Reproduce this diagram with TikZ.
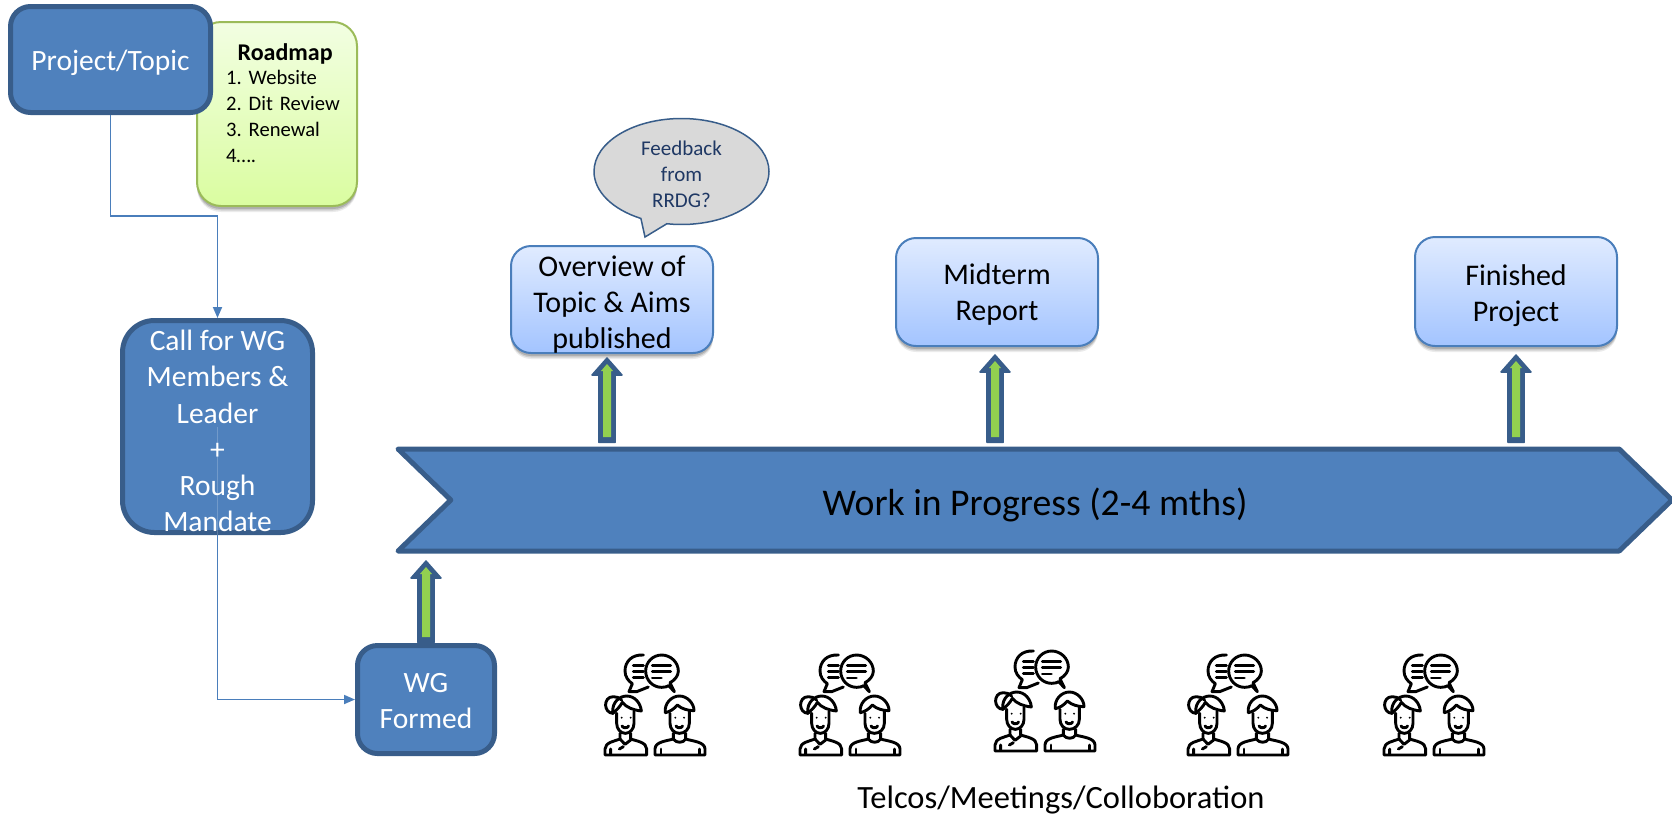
\documentclass[tikz,border=0pt]{standalone}
\usepackage{fontspec}
\setmainfont{Carlito}
\usetikzlibrary{arrows.meta,shadows,shapes.callouts,shapes.symbols,calc}
\definecolor{bluefill}{HTML}{4F81BD}
\definecolor{bluedark}{HTML}{385D8A}
\definecolor{linkblue}{HTML}{4A7EBB}
\definecolor{arrowgreen}{HTML}{92D050}
\definecolor{bubbletext}{HTML}{1F3864}
\definecolor{lighttop}{HTML}{E0EBFF}
\definecolor{lightb}{HTML}{A3C4FF}
\definecolor{greenedge}{HTML}{9BBB59}
\definecolor{greentop}{HTML}{F2FEE2}
\definecolor{greenbot}{HTML}{DAFDA0}
\tikzset{
 softshadow/.style={
   drop shadow={shadow xshift=0pt,shadow yshift=-6pt,opacity=.08,fill=black},
   drop shadow={shadow xshift=0pt,shadow yshift=-4.5pt,opacity=.12,fill=black},
   drop shadow={shadow xshift=0pt,shadow yshift=-3pt,opacity=.15,fill=black}},
 bluebox/.style={draw=bluedark,fill=bluefill,line width=5pt,rounded corners=20pt,text=white,align=center,inner sep=0pt,font=\fontsize{29.5}{36.2}\selectfont},
 lightbox/.style={softshadow,draw=linkblue,line width=2pt,top color=lighttop,bottom color=lightb,rounded corners=20pt,align=center,inner sep=0pt,font=\fontsize{30}{36}\selectfont,minimum width=202pt},
 roadbox/.style={softshadow,draw=greenedge,line width=2pt,top color=greentop,bottom color=greenbot,rounded corners=24pt,minimum width=160pt,minimum height=184pt,inner sep=0pt},
 link/.style={draw=linkblue,line width=1.8pt,-{Triangle[length=11pt,width=9pt]}},
 faintlink/.style={draw=white,line width=1pt,opacity=.2},
 caption/.style={font=\fontsize{32.5}{38}\selectfont,inner sep=0pt},
 feedback/.style={ellipse callout,draw=bluedark,line width=1.5pt,fill=black!15,text=bubbletext,align=center,inner sep=0pt,minimum width=175pt,minimum height=106pt,font=\fontsize{21}{26}\selectfont,callout pointer arc=18,text height=72pt,text depth=0pt},
 banner/.style={signal,signal to=east,signal from=west,signal pointer angle=88,draw=bluedark,fill=bluefill,line width=5pt,line join=round,inner sep=0pt,font=\fontsize{37.7}{42}\selectfont,text height=30pt,text depth=0pt},
 pics/people/.style={code={
  \begin{scope}[x=1pt/3,y=-1pt/3,line width=2.9pt,line cap=round,line join=round]
  % speech bubbles
  \draw (160,30) .. controls (125,28) and (105,50) .. (105,78) .. controls (105,95) and (115,108) .. (127,116) -- (117,140) -- (140,140) -- (175,126);
  \draw (215,30) .. controls (188,30) and (167,52) .. (167,78) .. controls (167,105) and (188,127) .. (215,127) .. controls (225,127) and (231,125) .. (236,122) -- (253,140) -- (240,113) .. controls (255,105) and (265,92) .. (265,78) .. controls (265,52) and (242,30) .. (215,30) -- cycle;
  \draw (130,62) -- (160,62) (130,80) -- (160,80) (130,98) -- (160,98);
  \draw (187,62) -- (242,62) (187,80) -- (242,80) (187,99) -- (214,99);
  % woman
  \draw (70,205) .. controls (40,205) and (38,155) .. (70,155) .. controls (80,155) and (88,158) .. (95,165);
  \draw (68,205) .. controls (65,170) and (90,153) .. (110,153) .. controls (135,153) and (152,175) .. (154,198) .. controls (130,195) and (110,188) .. (97,172) .. controls (90,185) and (80,195) .. (68,205);
  \draw (80,205) -- (80,235) .. controls (80,252) and (92,265) .. (106,265) .. controls (120,265) and (132,252) .. (132,235) -- (132,198);
  \draw (96,243) .. controls (100,250) and (112,250) .. (116,243);
  \draw (90,265) -- (90,282) .. controls (75,288) and (45,292) .. (45,312) -- (45,330) -- (170,330) -- (170,312) .. controls (170,292) and (140,288) .. (122,282) -- (122,265);
  \draw (90,282) -- (105,298) -- (122,285);
  \draw (62,312) -- (62,328) (88,312) -- (100,305);
  \fill (95,218) circle (3.2) (122,218) circle (3.2);
  % man
  \draw (226,203) .. controls (222,175) and (245,153) .. (268,153) .. controls (292,153) and (312,175) .. (312,197) .. controls (295,197) and (275,192) .. (262,180) .. controls (252,192) and (240,200) .. (226,203);
  \draw (240,205) -- (240,235) .. controls (240,252) and (252,265) .. (268,265) .. controls (285,265) and (298,252) .. (298,235) -- (298,198);
  \draw (258,243) .. controls (262,250) and (274,250) .. (278,243);
  \draw (250,265) -- (250,282) .. controls (230,288) and (195,290) .. (195,312) -- (195,330) -- (345,330) -- (345,312) .. controls (345,290) and (305,288) .. (287,282) -- (287,265);
  \draw (250,282) .. controls (258,295) and (280,295) .. (287,282);
  \draw (213,312) -- (213,328) (328,312) -- (328,328);
  \fill (256,218) circle (3.2) (282,218) circle (3.2);
  \end{scope}
 }}
}
\newcommand{\blockarrow}[2]{%
 \path let \p1=(#1),\p2=(#2) in
  [fill=bluedark,draw=bluedark,line width=1.5pt,line join=round]
  (\x1-8.2pt,\y1+.7pt) -- (\x1-8.2pt,\y2-18pt) -- (\x1-15pt,\y2-18pt) -- (\x1,\y2-1pt) -- (\x1+15pt,\y2-18pt) -- (\x1+8.2pt,\y2-18pt) -- (\x1+8.2pt,\y1+.7pt) -- cycle;
 \path let \p1=(#1),\p2=(#2) in
  [fill=arrowgreen]
  (\x1-4pt,\y1+6pt) -- (\x1-4pt,\y2-14pt) -- (\x1-6pt,\y2-14pt) -- (\x1,\y2-7pt) -- (\x1+6pt,\y2-14pt) -- (\x1+4pt,\y2-14pt) -- (\x1+4pt,\y1+6pt) -- cycle;
}
\begin{document}
\begin{tikzpicture}[x=1pt,y=-1pt]
\useasboundingbox (0,0) rectangle (1672,815);
% coordinates for the free ends of the connectors
\coordinate (bendA) at (110.5,216);
\coordinate (arrWGtip) at (426,560);
\coordinate (arrOvBase) at (607,443);
\coordinate (arrOvTip) at (607,357);
\coordinate (arrMidBase) at (995,443);
\coordinate (arrMidTip) at (995,354);
\coordinate (arrFinBase) at (1516,443);
\coordinate (arrFinTip) at (1516,354);
\coordinate (feedbackTip) at (645,237);
% boxes
\node[roadbox] (roadmap) at (277,114) {};
\node[inner sep=0pt,text width=118pt,anchor=north west,font=\fontsize{20.6}{26}\selectfont] (roadmaptext) at (226,43) {\frenchspacing\centering{\fontsize{24}{26}\selectfont\textbf{Roadmap}}\par\vspace{-1.5pt}\raggedright 1. Website\par 2. Dit Review\par 3. Renewal\par 4….};
\node[bluebox,minimum width=200pt,minimum height=106pt,text height=28pt] (project) at (110.5,59.5) {Project/Topic};
\node[bluebox,minimum width=190pt,minimum height=212pt,rounded corners=32pt,text height=210.5pt,text depth=0pt] (call) at (217.5,426.5) {Call for WG\\Members \&\\Leader\\+\\Rough\\Mandate};
\node[bluebox,minimum width=137pt,minimum height=108pt,text height=58pt,text depth=0pt] (wg) at (426,699.5) {WG\\Formed};
\node[banner,minimum width=1274pt,minimum height=102pt] (progress) at (1035,500) {Work in Progress (2-4 mths)};
\node[lightbox,minimum height=107pt,text height=97pt,text depth=0pt] (overview) at (612,299.5) {Overview of\\Topic \& Aims\\published};
\node[lightbox,minimum height=108pt,text depth=0pt] (midterm) at (997,292) {Midterm\\Report};
\node[lightbox,minimum height=109pt,text height=60pt,text depth=0pt] (finished) at (1516,291.5) {Finished\\Project};
\node[feedback,callout absolute pointer={(feedbackTip)}] (bubble) at (681.5,171.5) {Feedback\\from\\RRDG?};
% connectors
\draw[link] (project.south) -- (bendA) -| (call.north);
\draw[faintlink] (call.center) -- (call.south);
\draw[link] (call.south) |- (wg.west);
% block arrows
\blockarrow{wg.north}{arrWGtip}
\blockarrow{arrOvBase}{arrOvTip}
\blockarrow{arrMidBase}{arrMidTip}
\blockarrow{arrFinBase}{arrFinTip}
% people
\pic (people1) at (590,645) {people};
\pic (people2) at (785,645) {people};
\pic (people3) at (980,641) {people};
\pic (people4) at (1173,645) {people};
\pic (people5) at (1369,645) {people};
\node[caption] (telcos) at (1061,800) {Telcos/Meetings/Colloboration};
\end{tikzpicture}
\end{document}
